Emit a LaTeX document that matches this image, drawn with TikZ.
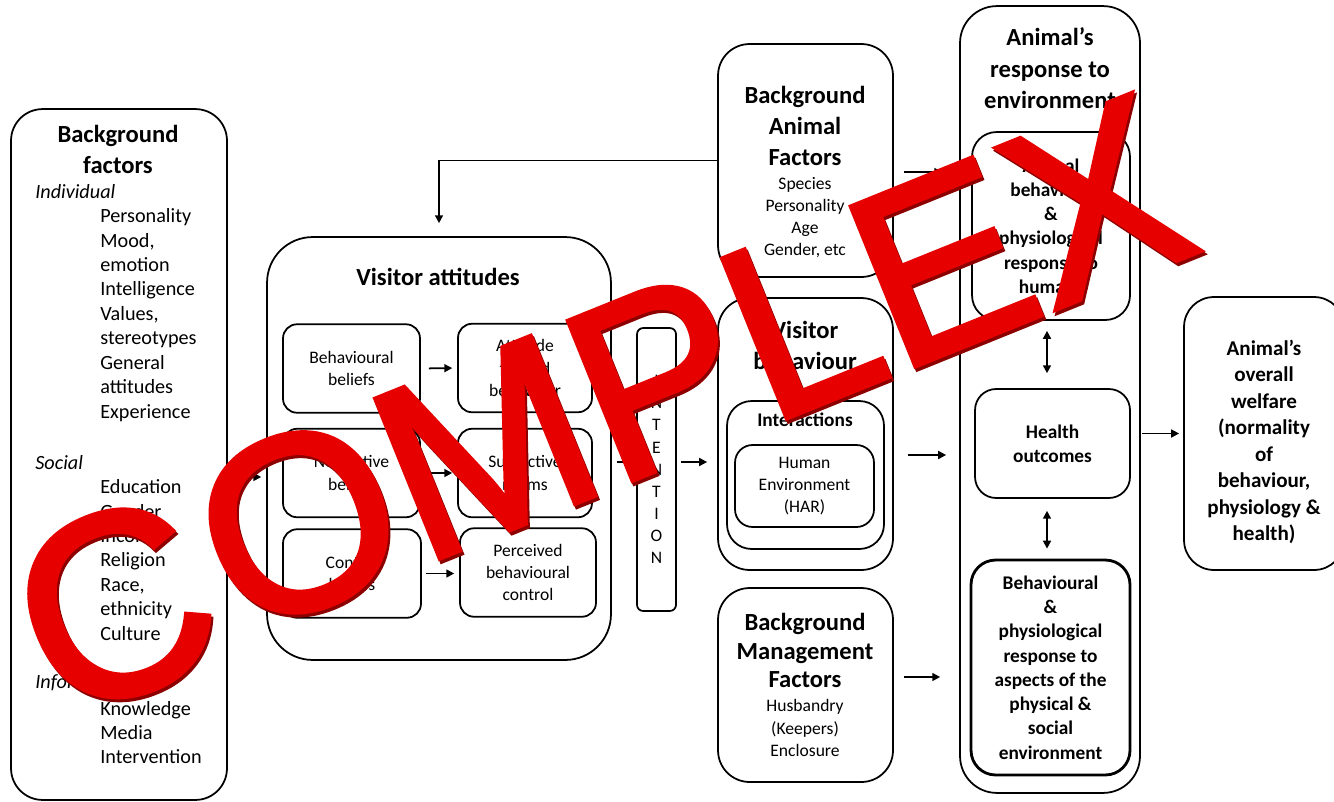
\documentclass[tikz,border=0pt]{standalone}
\usepackage{fontspec}
\setmainfont{Carlito}
\newfontfamily\stampfont[FakeBold=2]{Liberation Sans}
\usetikzlibrary{arrows.meta}
\definecolor{stampred}{RGB}{230,0,0}
\definecolor{stampdark}{RGB}{140,0,0}
\tikzset{
  box/.style={draw, line width=1pt, inner sep=0pt},
  head/.style={font=\bfseries\fontsize{14}{17.6}\selectfont, align=center, inner sep=0pt},
  item/.style={font=\fontsize{11.5}{13.9}\selectfont, align=left, inner sep=0pt, anchor=west},
  ital/.style={font=\itshape\fontsize{11.5}{13.9}\selectfont},
  small/.style={font=\fontsize{10}{12.6}\selectfont, align=center},
  mid/.style={font=\bfseries\fontsize{11}{13.8}\selectfont, align=center},
  ibox/.style={box, rounded corners=8pt, minimum height=1.77cm, small},
  arr/.style={-{Triangle[length=4.5pt,width=4.5pt]}, line width=1pt},
  darr/.style={{Triangle[length=4.5pt,width=4.5pt]}-{Triangle[length=4.5pt,width=4.5pt]}, line width=1pt},
  stamp/.style={font=\stampfont\fontsize{142}{142}\selectfont, text=stampred, rotate=22, inner sep=0pt},
  stampshade/.style={stamp, text=stampdark},
  bigc/.style={font=\stampfont\fontsize{148}{148}\selectfont}
}
\begin{document}
\begin{tikzpicture}[x=0.02cm, y=-0.02cm]
  \fill[white] (0,0) rectangle (1334,801);
  \useasboundingbox (0,0) rectangle (1334,801);
  \clip (0,0) rectangle (1334,801);

  % Background factors
  \node[box, rounded corners=18pt, minimum width=4.32cm, minimum height=13.82cm] (bgf) at (119,454.5) {};
  \node[head] (bgfT) at (118,149.5) {Background\\factors};
  \node[item, ital] (indT) at (35,192) {Individual};
  \node[item] (indL) at (100,315) {Personality\\Mood,\\emotion\\Intelligence\\Values,\\stereotypes\\General\\attitudes\\Experience};
  \node[item, ital] (socT) at (35,463) {Social};
  \node[item] (socL) at (100,560) {Education\\Gender\\Income\\Religion\\Race,\\ethnicity\\Culture};
  \node[item, ital] (infT) at (35,683) {Information};
  \node[item] (infL) at (100,732.5) {Knowledge\\Media\\Intervention};

  % Visitor attitudes
  \node[box, rounded corners=26pt, minimum width=6.88cm, minimum height=8.46cm] (va) at (439,448.5) {};
  \node[head] (vaT) at (438,277) {Visitor attitudes};
  \node[ibox, minimum width=2.74cm] (bb) at (351.5,368.5) {Behavioural\\beliefs};
  \node[ibox, minimum width=2.68cm] (atb) at (525,368) {Attitude\\toward\\behaviour};
  \node[ibox, minimum width=2.74cm] (nb) at (351.5,473) {Normative\\beliefs};
  \node[ibox, minimum width=2.68cm] (sn) at (525,473) {Subjective\\norms};
  \node[ibox, minimum width=2.76cm] (cb) at (352,573.5) {Control\\beliefs};
  \node[ibox, minimum width=2.72cm] (pbc) at (528,572.5) {Perceived\\behavioural\\control};
  \node[box, rounded corners=3.5pt, minimum width=0.78cm, minimum height=5.66cm, small] (intn) at (656.5,469.5) {I\\N\\T\\E\\N\\T\\I\\O\\N};

  % Visitor behaviour and background animal / management factors
  \node[box, rounded corners=18pt, minimum width=3.5cm, minimum height=4.66cm] (baf) at (805.5,160.5) {};
  \node[head] (bafT) at (805,126) {Background\\Animal\\Factors};
  \node[small] (bafL) at (805,217.5) {Species\\Personality\\Age\\Gender, etc};
  \node[box, rounded corners=18pt, minimum width=3.5cm, minimum height=5.44cm] (vb) at (805.5,434) {};
  \node[head] (vbT) at (805,345) {Visitor\\behaviour};
  \node[box, rounded corners=14pt, minimum width=3.14cm, minimum height=2.96cm] (int) at (805.5,475) {};
  \node[mid] (intT) at (805,420) {Interactions};
  \node[box, rounded corners=10pt, minimum width=2.78cm, minimum height=1.64cm, small] (har) at (804.5,486) {Human\\Environment\\(HAR)};
  \node[box, rounded corners=18pt, minimum width=3.5cm, minimum height=3.88cm] (bmf) at (805.5,685) {};
  \node[head, font=\bfseries\fontsize{14}{16.2}\selectfont] (bmfT) at (805,650.5) {Background\\Management\\Factors};
  \node[small, font=\fontsize{10}{13}\selectfont] (bmfL) at (805,728) {Husbandry\\(Keepers)\\Enclosure};

  % Animal's response and welfare
  \node[box, rounded corners=21pt, minimum width=3.6cm, minimum height=15.74cm] (ar) at (1050,399.5) {};
  \node[head, font=\bfseries\fontsize{14}{17.9}\selectfont] (arT) at (1050,68.5) {Animal’s\\response to\\environment};
  \node[box, rounded corners=14pt, minimum width=3.16cm, minimum height=3.76cm, mid] (ab) at (1051,226) {Animal\\behaviour\\\&\\physiological\\response to\\humans};
  \node[box, rounded corners=12pt, minimum width=3.1cm, minimum height=2.18cm, mid] (ho) at (1052.5,443.5) {Health\\outcomes};
  \node[box, line width=1.6pt, rounded corners=14pt, minimum width=3.18cm, minimum height=4.3cm, mid] (bp) at (1050.5,667.5) {Behavioural\\\&\\physiological\\response to\\aspects of the\\physical \&\\social\\environment};
  \node[box, rounded corners=17pt, minimum width=3.2cm, minimum height=5.46cm] (wf) at (1264,433.5) {};
  \node[mid, font=\bfseries\fontsize{12}{15.1}\selectfont] (wfT) at (1264,442) {Animal’s\\overall\\welfare\\(normality\\of\\behaviour,\\physiology \&\\health)};

  % Connectors
  \coordinate (lvBgf) at (0,477);
  \coordinate (lvInt) at (0,462);
  \coordinate (lvBaf) at (0,172);
  \coordinate (lvVb) at (0,455);
  \coordinate (lvBmf) at (0,677);
  \coordinate (colAr) at (1047,0);
  \draw[arr, shorten <=3.4pt, shorten >=2.8pt] (bgf.east |- lvBgf) -- (va.west |- lvBgf);
  \draw[arr, shorten >=7.4pt] (baf.west) -| (va.north);
  \draw[arr, shorten <=4.5pt, shorten >=2.8pt] (bb.east) -- (atb.west);
  \draw[arr, shorten <=4.5pt, shorten >=2.8pt] (nb.east) -- (sn.west);
  \draw[arr, shorten <=2.3pt, shorten >=2.8pt] (cb.east) -- (cb.east -| pbc.west);
  \draw[line width=1pt, shorten <=2.8pt, shorten >=4.5pt] (va.east |- lvInt) -- (intn.west |- lvInt);
  \draw[arr, shorten <=2.3pt, shorten >=5.7pt] (intn.east |- lvInt) -- (vb.west |- lvInt);
  \draw[arr, shorten <=5.7pt, shorten >=9.6pt] (baf.east |- lvBaf) -- (ar.west |- lvBaf);
  \draw[arr, shorten <=7.9pt, shorten >=7.4pt] (vb.east |- lvVb) -- (ar.west |- lvVb);
  \draw[arr, shorten <=5.7pt, shorten >=10.8pt] (bmf.east |- lvBmf) -- (ar.west |- lvBmf);
  \draw[arr, shorten <=0.5pt, shorten >=2.3pt] (ar.east |- wf.west) -- (wf.west);
  \draw[darr, shorten <=5.7pt, shorten >=8.5pt] (ab.south -| colAr) -- (ho.north -| colAr);
  \draw[darr, shorten <=6.8pt, shorten >=5.7pt] (ho.south -| colAr) -- (bp.north -| colAr);

  % Stamp
  \node[stampshade, bigc] (cS) at (116,609) {C};
  \node[stamp, bigc] (c) at (114,606) {C};
  \node[stampshade] (omplexS) at (693,367) {OMPLEX};
  \node[stamp] (omplex) at (691,364) {OMPLEX};
\end{tikzpicture}
\end{document}
